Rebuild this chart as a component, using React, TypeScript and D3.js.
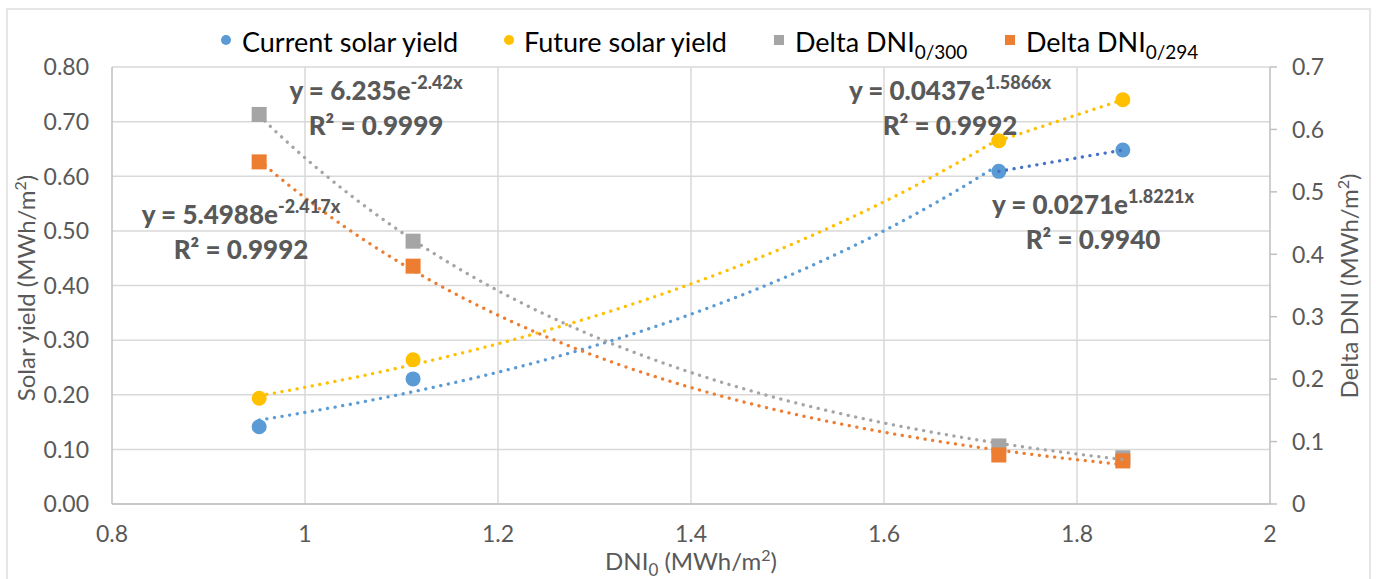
import React from "react";
import * as d3 from "d3";

const xVals = [0.9525, 1.112, 1.719, 1.8475];
const currentYield = [0.1415, 0.229, 0.609, 0.648];
const futureYield = [0.1935, 0.264, 0.665, 0.74];
const delta300 = [0.624, 0.421, 0.093, 0.074];
const delta294 = [0.548, 0.381, 0.0785, 0.069];

const xTicks = [0.8, 1, 1.2, 1.4, 1.6, 1.8, 2];
const leftTicks = [0, 0.1, 0.2, 0.3, 0.4, 0.5, 0.6, 0.7, 0.8];
const rightTicks = [0, 0.1, 0.2, 0.3, 0.4, 0.5, 0.6, 0.7];

// exponential trendline coefficients y = a * e^(b x)
const fitCurrent = [0.0271, 1.8221];
const fitFuture = [0.0437, 1.5866];
const fit300 = [6.235, -2.42];
const fit294 = [5.4988, -2.417];

const C_BLUE = "#5B9BD5";
const C_DBLUE = "#4472C4";
const C_YELLOW = "#FFC000";
const C_GRAY = "#A5A5A5";
const C_ORANGE = "#ED7D31";
const TXT = "#595959";
const GRID = "#D9D9D9";
const FONT = "Lato, 'Open Sans', sans-serif";

export default function App() {
  const W = 1376, H = 579;
  const x = d3.scaleLinear().domain([0.8, 2]).range([112, 1270]);
  const yL = d3.scaleLinear().domain([0, 0.8]).range([504, 67]);
  const yR = d3.scaleLinear().domain([0, 0.7]).range([504, 67]);

  const sample = (x0: number, x1: number) => d3.range(0, 61).map((i) => x0 + ((x1 - x0) * i) / 60);
  const expPath = (fit: number[], x0: number, x1: number, ys: d3.ScaleLinear<number, number>) =>
    d3.line<number>().x((v) => x(v)).y((v) => ys(fit[0] * Math.exp(fit[1] * v)))(sample(x0, x1)) || "";
  const segPath = (vals: number[], i: number, j: number, ys: d3.ScaleLinear<number, number>) =>
    d3.line<number>().x((k) => x(xVals[k])).y((k) => ys(vals[k]))([i, j]) || "";

  const dotted = { fill: "none", strokeWidth: 3.3, strokeLinecap: "round" as const, strokeDasharray: "0.1 7.6" };

  const eq = (cx: number, by: number, a: string, b: string, r2: string) => (
    <g fontFamily={FONT} fontWeight="900" fill={TXT} textAnchor="middle">
      <text x={cx} y={by} fontSize={26}>
        y = {a}e<tspan fontSize={18} dy={-11}>{b}</tspan>
      </text>
      <text x={cx} y={by + 35} fontSize={26}>
        R² = {r2}
      </text>
    </g>
  );

  return (
    <svg width={W} height={H} style={{ position: "absolute", left: 0, top: 0, background: "#fff" }}>
      <rect x={0} y={0} width={W} height={H} fill="#fff" />
      <rect x={7} y={9} width={1363} height={600} fill="none" stroke={GRID} strokeWidth={1.3} />

      {/* gridlines */}
      {leftTicks.map((t) => (
        <line key={"h" + t} x1={112} x2={1270} y1={yL(t)} y2={yL(t)} stroke={GRID} strokeWidth={1.5} />
      ))}
      {xTicks.slice(1, -1).map((t) => (
        <line key={"v" + t} x1={x(t)} x2={x(t)} y1={67} y2={504} stroke={GRID} strokeWidth={1.5} />
      ))}
      {/* axes */}
      <line x1={112} x2={112} y1={67} y2={504} stroke="#BFBFBF" strokeWidth={1.5} />
      <line x1={112} x2={1270} y1={504} y2={504} stroke="#BFBFBF" strokeWidth={1.5} />
      <line x1={1270} x2={1270} y1={67} y2={504} stroke="#BFBFBF" strokeWidth={1.5} />
      {rightTicks.map((t) => (
        <line key={"rt" + t} x1={1270} x2={1277} y1={yR(t)} y2={yR(t)} stroke="#BFBFBF" strokeWidth={1.5} />
      ))}

      {/* tick labels */}
      <g fontFamily={FONT} fontSize={23} fill={TXT}>
        {leftTicks.map((t) => (
          <text key={"lt" + t} x={89} y={yL(t)} dy="0.36em" textAnchor="end">
            {t.toFixed(2)}
          </text>
        ))}
        {rightTicks.map((t) => (
          <text key={"rl" + t} x={1292} y={yR(t)} dy="0.36em" textAnchor="start">
            {t === 0 ? "0" : String(+t.toFixed(1))}
          </text>
        ))}
        {xTicks.map((t) => (
          <text key={"xt" + t} x={x(t)} y={542} textAnchor="middle">
            {String(+t.toFixed(1))}
          </text>
        ))}
      </g>
      <g fontFamily={FONT} fontSize={24} fill={TXT}>
        <text x={691} y={570} textAnchor="middle">
          DNI<tspan fontSize={17} dy={6}>0</tspan>
          <tspan dy={-6}> (MWh/m</tspan>
          <tspan fontSize={16} dy={-9}>2</tspan>
          <tspan dy={9}>)</tspan>
        </text>
        <text transform="translate(35,288) rotate(-90)" textAnchor="middle">
          Solar yield (MWh/m<tspan fontSize={16} dy={-9}>2</tspan>
          <tspan dy={9}>)</tspan>
        </text>
        <text transform="translate(1358,286) rotate(-90)" textAnchor="middle">
          Delta DNI (MWh/m<tspan fontSize={16} dy={-9}>2</tspan>
          <tspan dy={9}>)</tspan>
        </text>
      </g>

      {/* markers */}
      {xVals.map((v, i) => (
        <circle key={"c" + i} cx={x(v)} cy={yL(currentYield[i])} r={7.5} fill={C_BLUE} />
      ))}
      {xVals.map((v, i) => (
        <circle key={"f" + i} cx={x(v)} cy={yL(futureYield[i])} r={7.5} fill={C_YELLOW} />
      ))}
      {xVals.map((v, i) => (
        <rect key={"g" + i} x={x(v) - 7.5} y={yR(delta300[i]) - 7.5} width={15} height={15} fill={C_GRAY} />
      ))}
      {xVals.map((v, i) => (
        <rect key={"o" + i} x={x(v) - 7.5} y={yR(delta294[i]) - 7.5} width={15} height={15} fill={C_ORANGE} />
      ))}

      {/* trendlines */}
      <path d={expPath(fitCurrent, xVals[0], xVals[2], yL)} stroke={C_BLUE} {...dotted} />
      <path d={segPath(currentYield, 2, 3, yL)} stroke={C_DBLUE} {...dotted} />
      <path d={expPath(fitFuture, xVals[0], xVals[2], yL)} stroke={C_YELLOW} {...dotted} />
      <path d={segPath(futureYield, 2, 3, yL)} stroke={C_YELLOW} {...dotted} />
      <path d={expPath(fit300, xVals[0], xVals[3], yR)} stroke={C_GRAY} {...dotted} />
      <path d={expPath(fit294, xVals[0], xVals[3], yR)} stroke={C_ORANGE} {...dotted} />

      {/* equations */}
      {eq(376, 100, "6.235", "-2.42x", "0.9999")}
      {eq(241, 224, "5.4988", "-2.417x", "0.9992")}
      {eq(950, 100, "0.0437", "1.5866x", "0.9992")}
      {eq(1093, 214, "0.0271", "1.8221x", "0.9940")}

      {/* legend */}
      <g fontFamily={FONT} fontSize={27} fill="#000">
        <circle cx={226} cy={40} r={5} fill={C_BLUE} />
        <text x={242} y={52}>Current solar yield</text>
        <circle cx={509} cy={40} r={5} fill={C_YELLOW} />
        <text x={524} y={52}>Future solar yield</text>
        <rect x={774} y={35} width={10} height={10} fill={C_GRAY} />
        <text x={795} y={52}>
          Delta DNI<tspan fontSize={19} dy={7}>0/300</tspan>
        </text>
        <rect x={1005} y={35} width={10} height={10} fill={C_ORANGE} />
        <text x={1026} y={52}>
          Delta DNI<tspan fontSize={19} dy={7}>0/294</tspan>
        </text>
      </g>
    </svg>
  );
}
